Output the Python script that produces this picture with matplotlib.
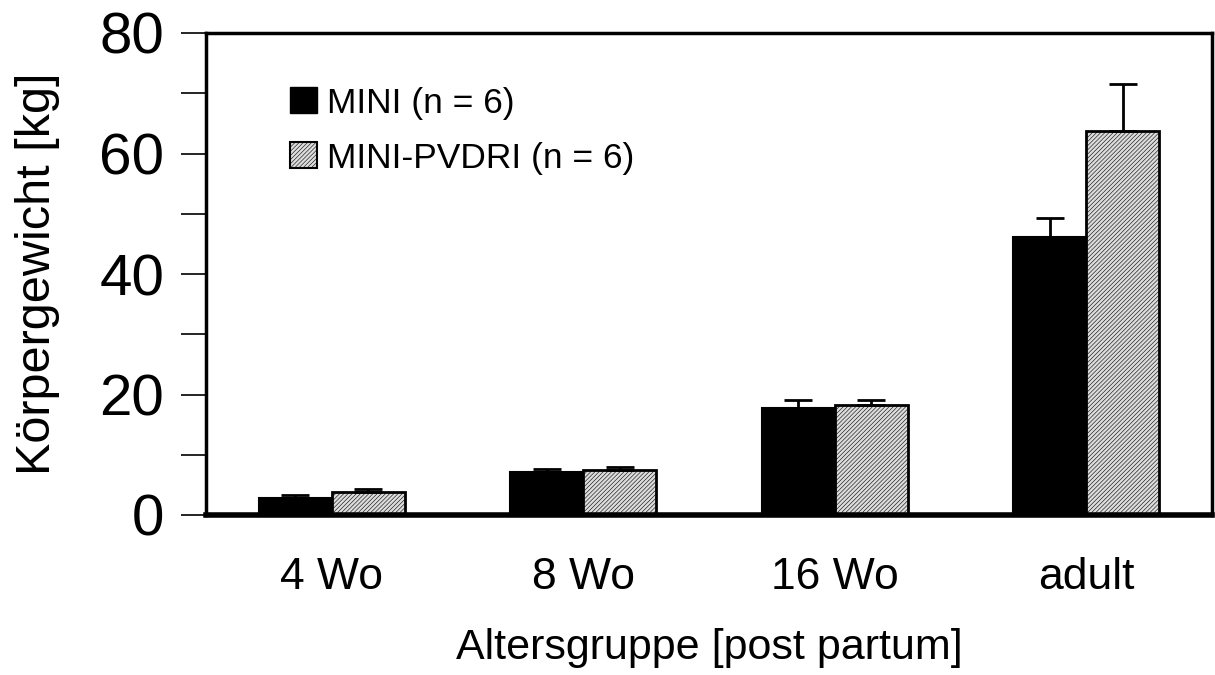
import numpy as np
import matplotlib.pyplot as plt
from matplotlib.patches import Patch

plt.rcParams["font.family"] = ["Liberation Sans", "DejaVu Sans"]
plt.rcParams["hatch.linewidth"] = 0.4

# Körpergewicht je Altersgruppe (Mittelwert + SD)
groups = ["4 Wo", "8 Wo", "16 Wo", "adult"]
mini_mean = [2.8, 7.1, 17.7, 46.1]
mini_sd = [0.5, 0.5, 1.4, 3.2]
pvdri_mean = [3.8, 7.5, 18.2, 63.7]
pvdri_sd = [0.5, 0.5, 0.9, 7.8]

x = np.arange(len(groups)) + 0.5
w = 0.29
HATCH = "////////"
GREY = "#dcdcdc"

fig = plt.figure(figsize=(12.15, 6.75), dpi=100)
ax = fig.add_axes([206 / 1215, 1 - 515 / 675, 1006 / 1215, 482 / 675])

err_style = dict(ecolor="black", elinewidth=2, capsize=10, capthick=2)
ax.bar(x - w / 2, mini_mean, w, color="black", edgecolor="black", linewidth=1.5,
       yerr=[np.zeros(4), mini_sd], error_kw=err_style)
ax.bar(x + w / 2, pvdri_mean, w, color=GREY, edgecolor="black", linewidth=2,
       hatch=HATCH, yerr=[np.zeros(4), pvdri_sd], error_kw=err_style)

ax.set_xlim(0, 4)
ax.set_ylim(0, 80)
ax.set_xticks(x)
ax.set_xticklabels(groups, fontsize=32)
ax.tick_params(axis="x", length=0, pad=30)
ax.set_yticks(np.arange(0, 81, 20))
ax.set_yticks(np.arange(0, 81, 10), minor=True)
ax.tick_params(axis="y", which="both", length=18, width=1.2, labelsize=42, pad=12)

for s in ["left", "top", "right"]:
    ax.spines[s].set_linewidth(2.5)
ax.spines["bottom"].set_linewidth(4)

ax.set_ylabel("Körpergewicht [kg]", fontsize=35, labelpad=28)
ax.set_xlabel("Altersgruppe [post partum]", fontsize=31, labelpad=22)

handles = [
    Patch(facecolor="black", edgecolor="black", label="MINI (n = 6)"),
    Patch(facecolor=GREY, edgecolor="black", hatch=HATCH, linewidth=1.5, label="MINI-PVDRI (n = 6)"),
]
ax.legend(handles=handles, loc="upper left", bbox_to_anchor=(0.052, 0.955), frameon=False,
          fontsize=25.5, handlelength=0.75, handleheight=0.75, handletextpad=0.3, labelspacing=0.62)

fig.savefig("out.png", dpi=100)
